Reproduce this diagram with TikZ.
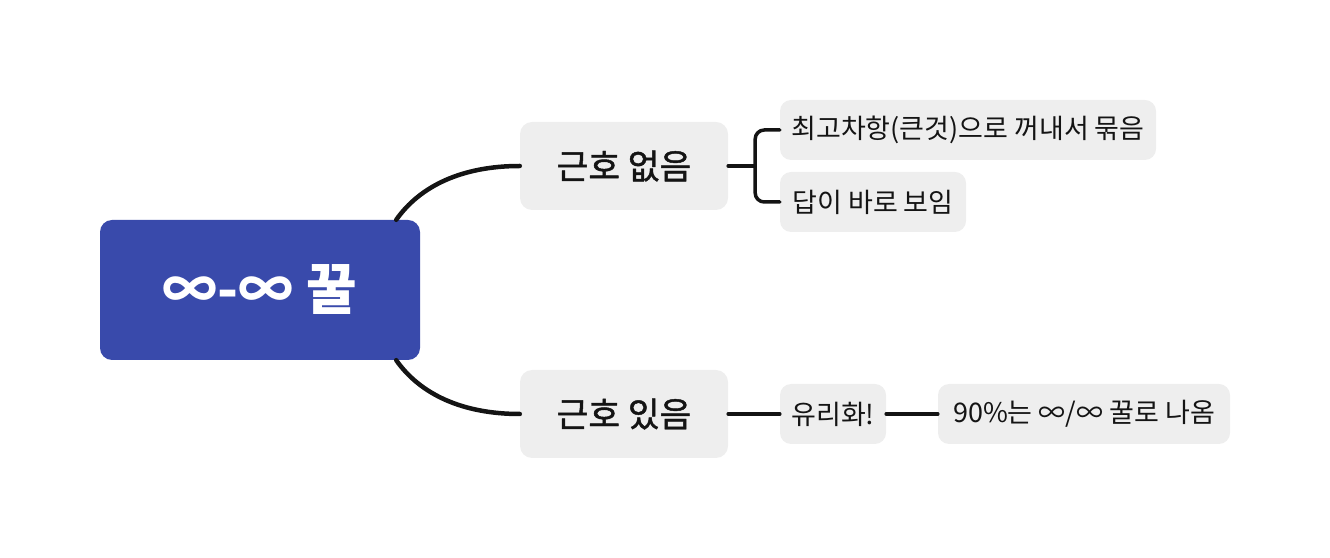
\documentclass[tikz,border=0pt]{standalone}
\usepackage{fontspec}
\setmainfont{Noto Sans CJK KR}
\newfontfamily\topicfont[FakeBold=1.3]{Noto Sans CJK KR}
\usetikzlibrary{positioning}
\definecolor{rootblue}{HTML}{394AAB}
\definecolor{topicgray}{HTML}{EEEEEE}
\definecolor{inkline}{HTML}{141414}
\tikzset{
  rootbox/.style={fill=rootblue,text=white,rounded corners=12bp,minimum width=320bp,minimum height=140bp,inner sep=0pt,font=\fontsize{55bp}{60bp}\selectfont\bfseries},
  mainbox/.style={fill=topicgray,text=inkline,rounded corners=12bp,minimum width=208bp,minimum height=88bp,inner sep=0pt,font=\fontsize{34.5bp}{40bp}\topicfont},
  leafbox/.style={fill=topicgray,text=inkline,rounded corners=11bp,minimum height=60bp,inner sep=0pt,font=\fontsize{27bp}{32bp}\selectfont},
  branchline/.style={inkline,line width=4.5bp},
  leafline/.style={inkline,line width=3.5bp},
}
\begin{document}
\begin{tikzpicture}[line join=round,line cap=round]
\useasboundingbox (0bp,0bp) rectangle (1330bp,558bp);
%%
\node (node_0) at (260bp,268bp) [rootbox] {∞-∞ 꿀};
  \node (node_1) at (624bp,392bp) [mainbox] {근호 없음};
  \node (node_2) at (624bp,144bp) [mainbox] {근호 있음};
  \node (node_3) at (968bp,428bp) [leafbox,minimum width=376bp] {최고차항(큰것)으로 꺼내서 묶음};
  \node (node_4) at (873bp,356bp) [leafbox,minimum width=186bp] {답이 바로 보임};
  \node (node_5) at (833bp,144bp) [leafbox,minimum width=106bp] {유리화!};
  \node (node_6) at (1084bp,144bp) [leafbox,minimum width=292bp] {90\%는 ∞/∞ 꿀로 나옴};
%
  \draw [branchline] ([xshift=-24bp]node_0.north east) ..controls (420bp,372bp) and (462bp,392bp)  .. (node_1.west);
  \draw [branchline] ([xshift=-24bp]node_0.south east) ..controls (420bp,164bp) and (462bp,144bp)  .. (node_2.west);
%
  \coordinate (fork_1) at ([xshift=27bp]node_1.east);
  \draw [leafline] (node_1.east) -- (fork_1);
  \draw [leafline,rounded corners=9bp] (fork_1) |- (node_3.west);
  \draw [leafline,rounded corners=9bp] (fork_1) |- (node_4.west);
  \draw [leafline] (node_2.east) -- (node_5.west);
  \draw [leafline] (node_5.east) -- (node_6.west);
%
\end{tikzpicture}
\end{document}
